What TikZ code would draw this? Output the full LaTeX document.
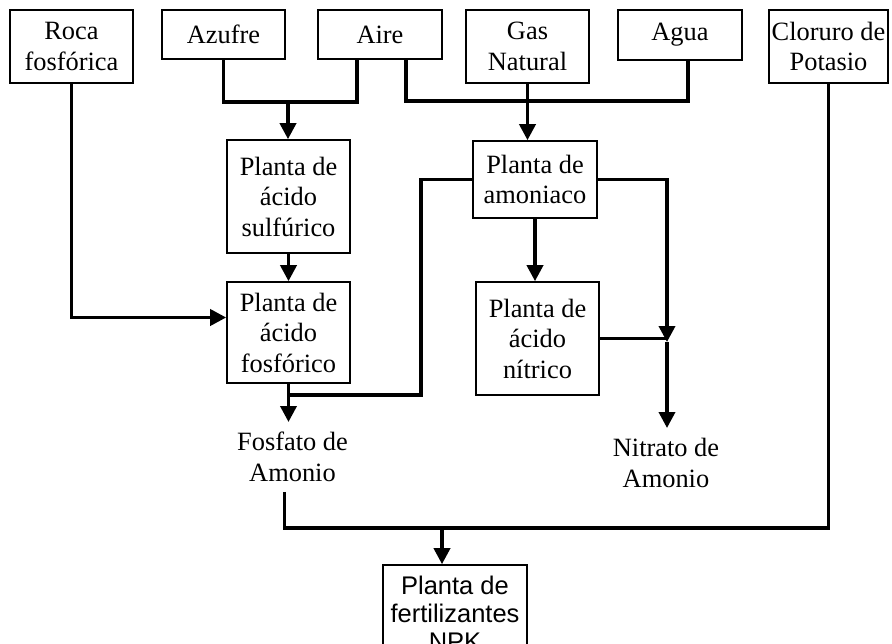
\documentclass[tikz,border=0pt]{standalone}
\usepackage{fontspec}
\setmainfont{Liberation Serif}
\newfontfamily\arialfont{Liberation Sans}
\usetikzlibrary{arrows.meta}

\begin{document}
\begin{tikzpicture}[x=1pt, y=-1pt,
  every node/.style={font=\fontsize{26.4}{30.5}\selectfont},
  caja/.style={draw, line width=1.6pt, align=center, inner sep=0pt},
  etiqueta/.style={align=center, inner xsep=0pt, inner ysep=10pt, anchor=north},
  flujo/.style={line width=3.6pt},
  flecha/.style={flujo, -{Triangle[length=16pt,width=16pt]}}]
\useasboundingbox (0,0) rectangle (892,643);
\clip (0,0) rectangle (892,643);
% materias primas
\node[caja, minimum width=123pt, minimum height=73pt] (roca) at (71.5,46.5) {Roca\\fosfórica};
\node[caja, minimum width=123pt, minimum height=49pt] (azufre) at (223.5,34.5) {Azufre};
\node[caja, minimum width=124pt, minimum height=49pt] (aire) at (380,34.5) {Aire};
\node[caja, minimum width=123pt, minimum height=73pt] (gas) at (527.5,46.5) {Gas\\Natural};
\node[caja, minimum width=124pt, minimum height=50pt] (agua) at (680,35) {Agua};
\node[caja, minimum width=119pt, minimum height=73pt] (clor) at (828.5,46.5) {Cloruro de\\Potasio};
% plantas
\node[caja, minimum width=123pt, minimum height=113pt] (sulf) at (288.5,196.5) {Planta de\\ácido\\sulfúrico};
\node[caja, minimum width=123pt, minimum height=101pt] (fosf) at (288.5,332.5) {Planta de\\ácido\\fosfórico};
\node[caja, minimum width=124pt, minimum height=77pt] (amon) at (535,179.5) {Planta de\\amoniaco};
\node[caja, minimum width=123pt, minimum height=113pt] (nitr) at (537.5,338.5) {Planta de\\ácido\\nítrico};
\node[caja, minimum width=144pt, minimum height=97pt, font=\arialfont\fontsize{25.5}{28}\selectfont] (npk) at (455,613.5) {Planta de\\fertilizantes\\NPK};
% productos
\node[etiqueta] (fosfato) at (292.5,422) {Fosfato de\\Amonio};
\node[etiqueta] (nitrato) at (666,428) {Nitrato de\\Amonio};
% puntos de union
\coordinate (j1) at (288,102);
\coordinate (j2) at (529,101);
\coordinate (j3) at (667,342);
\coordinate (j4) at (442,528);
\coordinate (k1) at (421,395);
% flujos
\draw[flujo] (azufre.south) |- (j1) -| ([xshift=-23pt]aire.south);
\draw[flecha] (j1) -- (j1 |- sulf.north);
\draw[flujo] ([xshift=26pt]aire.south) |- (j2) -| ([xshift=8pt]agua.south);
\draw[flecha] (gas.south) -- (gas.south |- amon.north);
\draw[flecha] (roca.south) |- ([yshift=15pt]fosf.west);
\draw[flecha] (sulf.south) -- (fosf.north);
\draw[flecha] (fosf.south) -- (fosf.south |- fosfato.north);
\draw[flujo] (amon.west) -| (k1) -- (k1 -| fosf.south);
\draw[flecha] (amon.south) -- (amon.south |- nitr.north);
\draw[flecha] (amon.east) -| (j3);
\draw[flujo] (nitr.east) -- (nitr.east -| j3);
\draw[flecha] (j3) -- (j3 |- nitrato.north);
\draw[flujo] ([xshift=-8pt]fosfato.south) |- (j4) -| (clor.south);
\draw[flecha] (j4) -- (j4 |- npk.north);
\end{tikzpicture}
\end{document}
